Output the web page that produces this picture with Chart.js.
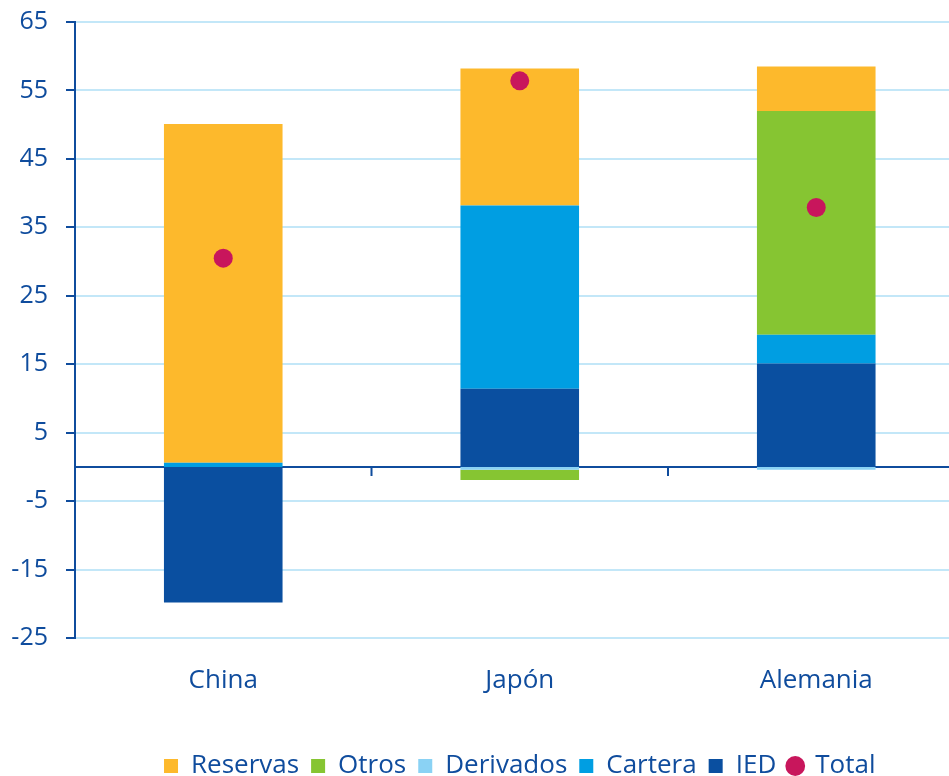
<!DOCTYPE html>
<html>
<head>
<meta charset="utf-8">
<script src="https://cdn.jsdelivr.net/npm/chart.js@4/dist/chart.umd.min.js"></script>
<style>
  html, body { margin: 0; padding: 0; background: #ffffff; overflow: hidden; }
  #wrap { position: relative; width: 974px; height: 789px; }
</style>
</head>
<body>
<div id="wrap"><canvas id="c"></canvas></div>
<script>
// ---- data ----
const categories = ['China', 'Japón', 'Alemania'];
const ied       = [-19.8, 11.4, 15.1];
const cartera   = [0.6, 26.8, 4.2];
const derivados = [0, -0.4, -0.4];
const otros     = [0, -1.5, 32.7];
const reservas  = [49.5, 20.0, 6.5];
const total     = [30.5, 56.4, 37.9];
const yTicks    = [-25, -15, -5, 5, 15, 25, 35, 45, 55, 65];
const legendOrder = ['Reservas', 'Otros', 'Derivados', 'Cartera', 'IED', 'Total'];

const TEXT = '#0f4c9d';
const FONT = "'Open Sans', 'DejaVu Sans', sans-serif";

const zeroLine = {
  id: 'zeroLine',
  beforeDatasetsDraw(chart) {
    const {ctx, chartArea, scales} = chart;
    const y0 = scales.y.getPixelForValue(0);
    ctx.save();
    ctx.strokeStyle = TEXT;
    ctx.lineWidth = 2;
    ctx.beginPath();
    ctx.moveTo(chartArea.left, y0);
    ctx.lineTo(chartArea.right, y0);
    for (let i = 0; i < categories.length - 1; i++) {
      const xb = (scales.x.getPixelForValue(i) + scales.x.getPixelForValue(i + 1)) / 2;
      ctx.moveTo(xb, y0);
      ctx.lineTo(xb, y0 + 9);
    }
    ctx.stroke();
    ctx.restore();
  }
};

const barDs = (label, data, color) => ({
  type: 'bar', label, data, backgroundColor: color, borderWidth: 0,
  pointStyle: 'rect', stack: 'bars', categoryPercentage: 1, barPercentage: 0.4
});

new Chart(document.getElementById('c'), {
  data: {
    labels: categories,
    datasets: [
      { type: 'line', label: 'Total', data: total, stack: 'total', showLine: false,
        pointRadius: 9.5, pointHoverRadius: 9.5, pointStyle: 'circle',
        backgroundColor: '#c8165c', borderColor: '#c8165c', pointBorderWidth: 0, borderWidth: 0 },
      barDs('IED', ied, '#0a4fa0'),
      barDs('Cartera', cartera, '#009ee2'),
      barDs('Derivados', derivados, '#8ad2f4'),
      barDs('Otros', otros, '#86c532'),
      barDs('Reservas', reservas, '#fdb92c')
    ]
  },
  options: {
    responsive: true,
    maintainAspectRatio: false,
    animation: false,
    layout: { padding: { top: 22, left: 0, right: 0, bottom: 0 } },
    plugins: {
      tooltip: { enabled: false },
      legend: {
        position: 'bottom',
        fullSize: false,
        labels: {
          usePointStyle: true,
          boxWidth: 14, boxHeight: 14,
          padding: 12,
          color: TEXT,
          font: { family: FONT, size: 26 },
          sort: (a, b) => legendOrder.indexOf(a.text) - legendOrder.indexOf(b.text)
        }
      }
    },
    scales: {
      x: {
        stacked: true,
        grid: { display: false, drawTicks: false },
        border: { display: false },
        ticks: { color: TEXT, font: { family: FONT, size: 26 }, padding: 27 },
        afterFit: s => { s.height = 103; }
      },
      y: {
        stacked: true,
        min: yTicks[0],
        max: yTicks[yTicks.length - 1],
        ticks: { stepSize: yTicks[1] - yTicks[0], color: TEXT, font: { family: FONT, size: 25 }, padding: 18 },
        grid: { color: '#c3e7f8', lineWidth: 2, tickColor: TEXT, tickLength: 9, tickWidth: 2 },
        border: { display: true, color: TEXT, width: 2 },
        afterFit: s => { s.width = 75; s.paddingTop = 0; s.paddingBottom = 0; }
      }
    }
  },
  plugins: [zeroLine]
});
</script>
</body>
</html>
